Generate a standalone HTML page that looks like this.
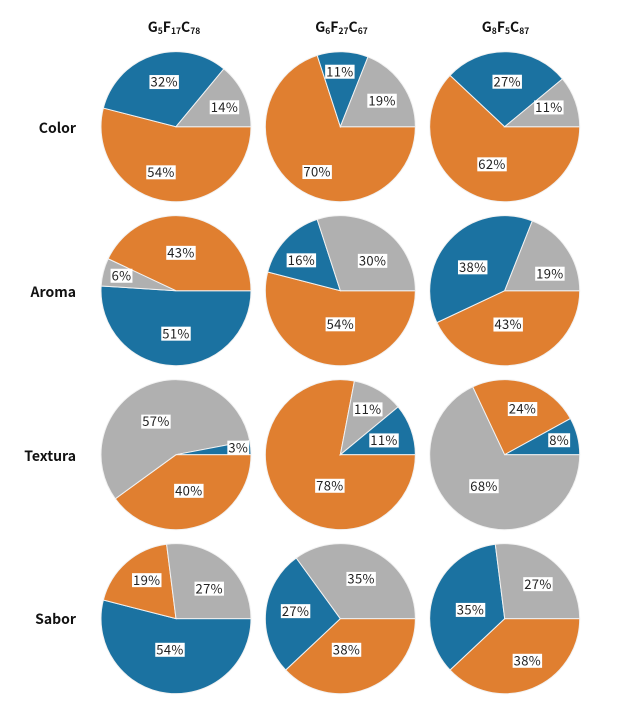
<!DOCTYPE html>
<html lang="es">
<head>
<meta charset="utf-8">
<title>Pie chart grid</title>
<style>
html,body{margin:0;padding:0;background:#fff;width:628px;height:720px;overflow:hidden}
svg{display:block}
text{font-family:"Noto Sans CJK JP","Liberation Sans",sans-serif;fill:#111}
.head{font-size:14px;font-weight:700;text-anchor:middle}
.head .sub{font-size:8.5px}
.row{font-size:14px;font-weight:700;text-anchor:end}
.val{font-size:13px;letter-spacing:.35px;text-anchor:middle;fill:#222}
</style>
</head>
<body>
<svg id="chart" xmlns="http://www.w3.org/2000/svg" width="628" height="720" viewBox="0 0 628 720">
  <text class="head" x="174" y="32">G<tspan class="sub" dy="2">5</tspan><tspan dy="-2">F</tspan><tspan class="sub" dy="2">17</tspan><tspan dy="-2">C</tspan><tspan class="sub" dy="2">78</tspan></text>
  <text class="head" x="341.5" y="32">G<tspan class="sub" dy="2">6</tspan><tspan dy="-2">F</tspan><tspan class="sub" dy="2">27</tspan><tspan dy="-2">C</tspan><tspan class="sub" dy="2">67</tspan></text>
  <text class="head" x="505.5" y="32">G<tspan class="sub" dy="2">8</tspan><tspan dy="-2">F</tspan><tspan class="sub" dy="2">5</tspan><tspan dy="-2">C</tspan><tspan class="sub" dy="2">87</tspan></text>
  <text class="row" x="76" y="133">Color</text>
  <text class="row" x="76" y="297">Aroma</text>
  <text class="row" x="76" y="461">Textura</text>
  <text class="row" x="76" y="624">Sabor</text>
  <g id="pies"></g>
</svg>
<script>
// Categories (row-major cell order: Color, Aroma, Textura, Sabor × three formulations)
const attributes = ['color', 'aroma', 'textura', 'sabor'];
const formulations = ['g5f17c78', 'g6f27c67', 'g8f5c87'];

// Series values, percent, one per cell
const orangeValues = [54, 70, 62, 43, 54, 43, 40, 78, 24, 19, 38, 38];
const blueValues   = [32, 11, 27, 51, 16, 38,  3, 11,  8, 54, 27, 35];
const grayValues   = [14, 19, 11,  6, 30, 19, 57, 11, 68, 27, 35, 27];

// Clockwise slice order from 3 o'clock, per cell
const sliceOrders = ['obg', 'obg', 'obg', 'bgo', 'obg', 'obg', 'ogb', 'ogb', 'gob', 'bog', 'obg', 'obg'];

// Layout and style (separate from the data)
const columnX = i => 176 + i * 164.35;
const rowY = i => 126.7 + i * 163.99;
const RADIUS = 75;
const LABEL_RADIUS = 48;
const COLORS = { o: '#e07f30', b: '#1b72a1', g: '#b0b0b0' };
const SERIES = { o: orangeValues, b: blueValues, g: grayValues };
const SERIES_NAMES = { o: 'orange', b: 'blue', g: 'gray' };
// Hand-placement offsets of each label from its slice's mid-angle anchor, in slice order
const labelNudgeX = [[-9, 3, 5], [5, -2, 2], [5, 1, -1], [1.5, -8, -5.5], [6, -4, 4], [-7, 3, 5.5], [-2, -1, 14.5], [26.5, 3, -1.5], [5, 3, 8], [0, 2.5, 1.5], [-11.5, 3, -1], [5, 11, 1.5]];
const labelNudgeY = [[-2, 1, 1], [6.5, -7, 1], [-7, 3, -3], [-5, -3, 9], [-14, 2.5, 9], [-13, 9.5, 10], [-9.5, 11, -2.5], [0.5, -4, 2], [-9, 0, -2.5], [-16.5, -2.5, 6], [-13.5, -3, 3], [-2.5, 7.5, 1.5]];

const NS = 'http://www.w3.org/2000/svg';
const angleOf = frac => frac * 2 * Math.PI;

function arcPath(cx, cy, r, a0, a1) {
  const large = a1 - a0 > Math.PI ? 1 : 0;
  return 'M' + cx + ' ' + cy +
    'L' + (cx + r * Math.cos(a0)) + ' ' + (cy + r * Math.sin(a0)) +
    'A' + r + ' ' + r + ' 0 ' + large + ' 1 ' + (cx + r * Math.cos(a1)) + ' ' + (cy + r * Math.sin(a1)) + 'Z';
}

function drawCell(root, row, col) {
  const cell = row * formulations.length + col;
  const cx = columnX(col), cy = rowY(row);
  const order = sliceOrders[cell].split('');
  const total = order.reduce((sum, k) => sum + SERIES[k][cell], 0);
  const group = document.createElementNS(NS, 'g');
  
  
  root.appendChild(group);
  let running = 0;
  const labels = [];
  order.forEach((key, idx) => {
    const value = SERIES[key][cell];
    const a0 = angleOf(running / total);
    const a1 = angleOf((running + value) / total);
    const mid = (a0 + a1) / 2;
    running += value;
    const slice = document.createElementNS(NS, 'path');
    slice.setAttribute('d', arcPath(cx, cy, RADIUS, a0, a1));
    slice.setAttribute('fill', COLORS[key]);
    slice.setAttribute('stroke', '#f2f2f2');
    slice.setAttribute('stroke-width', '1');
    
    
    group.appendChild(slice);
    labels.push({
      key: key,
      value: value,
      x: cx + LABEL_RADIUS * Math.cos(mid) + labelNudgeX[cell][idx],
      y: cy + LABEL_RADIUS * Math.sin(mid) + labelNudgeY[cell][idx]
    });
  });
  labels.forEach(l => {
    const bg = document.createElementNS(NS, 'rect');
    bg.setAttribute('fill', '#ffffff');
    
    
    group.appendChild(bg);
    const text = document.createElementNS(NS, 'text');
    text.setAttribute('class', 'val');
    text.setAttribute('x', l.x);
    text.setAttribute('y', l.y + 4.6);
    
    
    text.textContent = l.value + '%';
    group.appendChild(text);
    const w = text.getComputedTextLength() + 2;
    bg.setAttribute('x', l.x - w / 2);
    bg.setAttribute('y', l.y - 7);
    bg.setAttribute('width', w);
    bg.setAttribute('height', 14);
  });
}

const piesRoot = document.getElementById('pies');
attributes.forEach((_, r) => formulations.forEach((_, c) => drawCell(piesRoot, r, c)));
</script>
</body>
</html>
